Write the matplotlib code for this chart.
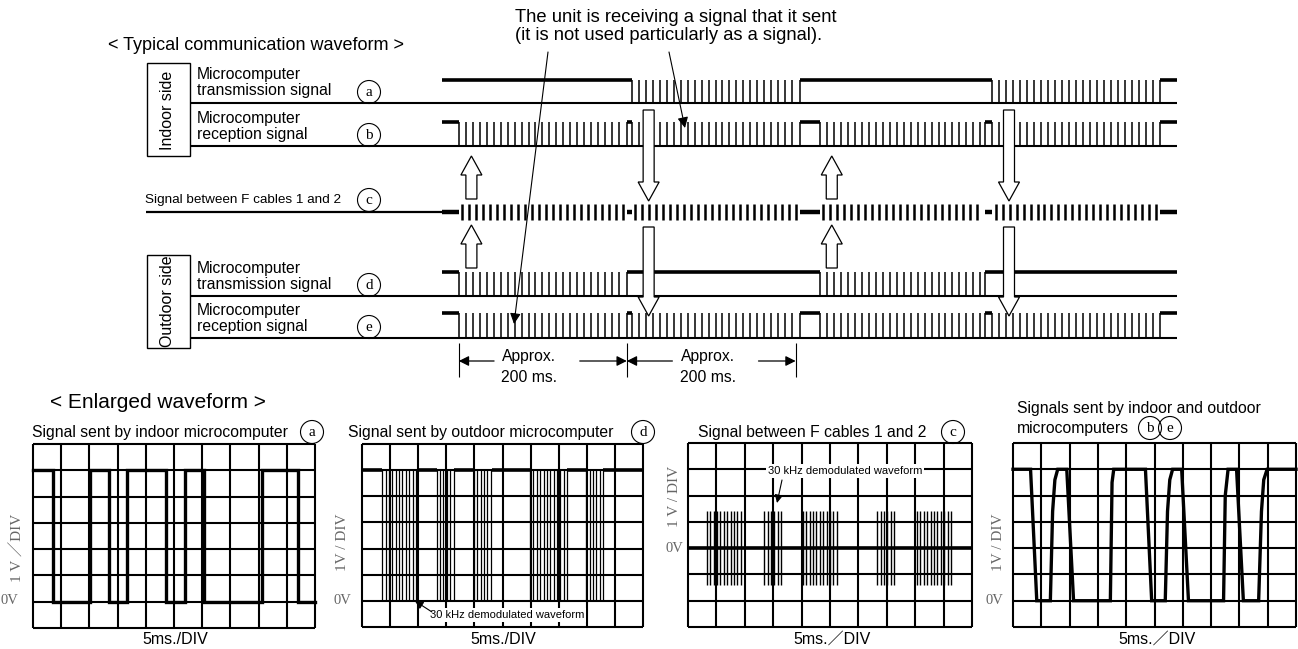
import numpy as np
import matplotlib.pyplot as plt
from matplotlib.patches import Rectangle, Circle, Polygon
from matplotlib.transforms import Affine2D

plt.rcParams['font.family'] = ['Liberation Sans', 'Noto Sans CJK JP', 'DejaVu Sans']
SERIF = ['Liberation Serif', 'Noto Sans CJK JP', 'DejaVu Serif']

# ---------------- typical communication waveform (time in ms) ----------------
trace_end = 875
tick_step = 8.3
outdoor_bursts = [(20, 220), (450, 646)]      # (d) outdoor unit transmits
indoor_bursts = [(226, 426), (655, 855)]      # (a) indoor unit transmits
frame_marks = [20, 220, 421]                  # "Approx. 200 ms." brackets
up_arrow_t = [35, 464]
down_arrow_t = [246, 675]

# ---------------- enlarged waveforms (ms, V) ----------------
a_low = [(3.5, 10.1), (13.5, 16.7), (23.6, 27.0), (30.3, 40.6), (47.0, 50.0)]
d_bursts = [(3.6, 9.8), (13.3, 16.4), (19.9, 23.1), (29.9, 36.5), (39.9, 42.9)]
c_bursts = [(3.3, 9.7), (13.4, 16.5), (20.2, 26.4), (33.3, 36.4), (40.3, 46.5)]
carrier_step = 0.6
c_amp = 1.4
be_t = [0, 3.1, 4.2, 6.6, 7.0, 7.4, 7.9, 9.5, 10.7, 17.2, 17.5, 17.8, 23.4, 24.5,
        26.9, 27.3, 27.7, 28.2, 29.8, 31.0, 37.2, 37.5, 38.0, 39.5, 40.7, 43.4,
        43.9, 44.3, 44.9, 50]
be_v = [5, 5, 0, 0, 3.4, 4.6, 5, 5, 0, 0, 4.5, 5, 5, 0,
        0, 3.4, 4.6, 5, 5, 0, 0, 4.0, 5, 5, 0, 0,
        3.4, 4.6, 5, 5]

W, H = 1298, 649
fig = plt.figure(figsize=(W / 100, H / 100), dpi=100)
ax = fig.add_axes([0, 0, 1, 1])
ax.set_xlim(0, W)
ax.set_ylim(H, 0)
ax.axis('off')
ax.set_zorder(10)
ax.patch.set_alpha(0)

# pixel mapping of the time axis of the upper diagram
X0, PX_MS = 442, 0.84
wave = Affine2D().scale(PX_MS, 1).translate(X0, 0) + ax.transData


def tx(t):
    return X0 + PX_MS * t


def gaps(bursts, end):
    out, t = [], 0
    for b0, b1 in sorted(bursts):
        out.append((t, b0))
        t = b1
    out.append((t, end))
    return out


def draw_row(bursts, y_hi, y_lo):
    for g0, g1 in gaps(bursts, trace_end):
        ax.hlines(y_hi, g0, g1, transform=wave, color='k', lw=2.6)
        edges = [e for e in (g0, g1) if 0 < e < trace_end]
        ax.vlines(edges, y_hi, y_lo, transform=wave, color='k', lw=1.1)
    for b0, b1 in bursts:
        ts = np.arange(b0 + tick_step, b1 - tick_step * 0.4, tick_step)
        ax.vlines(ts, y_hi, y_lo, transform=wave, color='k', lw=1.1)


def circ(x, y, ch, r=11.5):
    ax.add_patch(Circle((x, y), r, fill=False, lw=0.8, color='k'))
    ax.text(x, y + 0.5, ch, family=SERIF, fontsize=11, ha='center', va='center')


def block_arrow(x, y_tail, y_tip, sw=5.5, hw=10.5, hl=19):
    d = 1 if y_tip > y_tail else -1
    yb = y_tip - d * hl
    pts = [(x - sw, y_tail), (x - sw, yb), (x - hw, yb), (x, y_tip),
           (x + hw, yb), (x + sw, yb), (x + sw, y_tail)]
    ax.add_patch(Polygon(pts, closed=True, fc='white', ec='k', lw=0.9, zorder=6))


# ---------------- upper diagram ----------------
ax.text(108, 46, "< Typical communication waveform >", fontsize=13, va='center')

rows = {'a': (80, 103), 'b': (122, 146), 'd': (272, 296), 'e': (313, 338)}
yc = 212

ax.add_patch(Rectangle((147, 63), 43, 93, fill=False, lw=1.0))
ax.add_patch(Rectangle((147, 255), 43, 93, fill=False, lw=1.0))
ax.text(168, 110, "Indoor side", rotation=90, fontsize=11.5, ha='center', va='center')
ax.text(168, 301, "Outdoor side", rotation=90, fontsize=11.5, ha='center', va='center')

labels = [('a', "transmission signal"), ('b', "reception signal"),
          ('d', "transmission signal"), ('e', "reception signal")]
for key, second in labels:
    hi, lo = rows[key]
    ax.text(197, lo - 28, "Microcomputer", fontsize=11.3, va='center')
    ax.text(197, lo - 12, second, fontsize=11.3, va='center')
    circ(369, lo - 11, key)
    ax.hlines(lo, 190, tx(trace_end), color='k', lw=1.5)

draw_row(indoor_bursts, *rows['a'])
draw_row(indoor_bursts + outdoor_bursts, *rows['b'])
draw_row(outdoor_bursts, *rows['d'])
draw_row(indoor_bursts + outdoor_bursts, *rows['e'])

# line between F cables 1 and 2
ax.text(145, yc - 12, "Signal between F cables 1 and 2", fontsize=9.7, va='center')
circ(369, yc - 12, 'c')
ax.hlines(yc, 146, X0, color='k', lw=1.6)
for g0, g1 in gaps(indoor_bursts + outdoor_bursts, trace_end):
    ax.hlines(yc, g0, g1, transform=wave, color='k', lw=3.2)
for b0, b1 in indoor_bursts + outdoor_bursts:
    ts = np.arange(b0 + tick_step * 0.5, b1 - tick_step * 0.3, tick_step)
    ax.vlines(ts, yc - 8, yc + 8, transform=wave, color='k', lw=1.8)

# hollow arrows showing signal flow
for t in up_arrow_t:
    block_arrow(tx(t), 199, 156)
    block_arrow(tx(t), 268, 225)
for t in down_arrow_t:
    block_arrow(tx(t), 110, 201)
    block_arrow(tx(t), 227, 316)

# self reception note
ax.text(515, 17, "The unit is receiving a signal that it sent", fontsize=13.2, va='center')
ax.text(515, 35, "(it is not used particularly as a signal).", fontsize=13.2, va='center')
for xy, xytext in [((514, 324), (548, 52)), ((685, 128), (669, 52))]:
    ax.annotate('', xy=xy, xytext=xytext,
                arrowprops=dict(arrowstyle='-|>', lw=0.8, color='k',
                                mutation_scale=16, shrinkA=0, shrinkB=0))

# approx 200 ms brackets
ax.vlines([tx(m) for m in frame_marks], 343, 377, color='k', lw=0.8)
for i, (m0, m1) in enumerate(zip(frame_marks[:-1], frame_marks[1:])):
    span = m1 - m0
    shift = 0.06 * i
    ax.annotate('', xy=(tx(m0), 361), xytext=(tx(m0 + (0.21 + shift) * span), 361),
                arrowprops=dict(arrowstyle='-|>', lw=0.9, color='k',
                                mutation_scale=15, shrinkA=0, shrinkB=0))
    ax.annotate('', xy=(tx(m1), 361), xytext=(tx(m0 + (0.72 + shift) * span), 361),
                arrowprops=dict(arrowstyle='-|>', lw=0.9, color='k',
                                mutation_scale=15, shrinkA=0, shrinkB=0))
    xm = tx(m0 + (0.42 + shift) * span)
    ax.text(xm, 357, "Approx.", fontsize=11.3, ha='center', va='center')
    ax.text(xm, 377, "200 ms.", fontsize=11.3, ha='center', va='center')

# ---------------- enlarged waveforms ----------------
ax.text(158, 403, "< Enlarged waveform >", fontsize=15, ha='center', va='center')


def scope(x0, y0, x1, y1, ylo, yhi):
    a = fig.add_axes([x0 / W, 1 - y1 / H, (x1 - x0) / W, (y1 - y0) / H])
    a.set_xlim(0, 50)
    a.set_ylim(ylo, yhi)
    a.axis('off')
    a.vlines(np.arange(0, 51, 5), ylo, yhi, color='k', lw=1.5, clip_on=False)
    a.hlines(np.arange(ylo, yhi + 1), 0, 50, color='k', lw=1.5, clip_on=False)
    return a


TR = dict(color='k', lw=2.4, solid_joinstyle='miter', clip_on=False)

# (a) indoor transmission
p1 = scope(33, 444, 315, 628, -1, 6)
ts, vs = [0], [5]
for l0, l1 in a_low:
    ts += [l0, l0, l1, l1]
    vs += [5, 0, 0, 5]
if ts[-1] >= 50:
    ts, vs = ts[:-1], vs[:-1]
p1.plot(ts, vs, **TR)

# (d) outdoor transmission
p2 = scope(362, 444, 643, 627, -1, 6)
for g0, g1 in gaps(d_bursts, 50):
    p2.hlines(5, g0, g1, color='k', lw=2.6, clip_on=False)
for b0, b1 in d_bursts:
    p2.vlines(np.arange(b0, b1 + 0.01, carrier_step), 0, 5, color='k', lw=0.9)

# (c) line signal
p3 = scope(688, 443, 972, 627, -3, 4)
p3.hlines(0, 0, 50, color='k', lw=2.6, clip_on=False)
for b0, b1 in c_bursts:
    p3.vlines(np.arange(b0, b1 + 0.01, carrier_step), -c_amp, c_amp, color='k', lw=1.0)

# (b)(e) reception
p4 = scope(1013, 443, 1296, 627, -1, 6)
p4.plot(be_t, be_v, **TR)

# panel titles
ax.text(32, 432, "Signal sent by indoor microcomputer", fontsize=11.3, va='center')
circ(312, 432, 'a')
ax.text(348, 432, "Signal sent by outdoor microcomputer", fontsize=11.3, va='center')
circ(643, 432, 'd')
ax.text(698, 432, "Signal between F cables 1 and 2", fontsize=11.3, va='center')
circ(953, 432, 'c')
ax.text(1017, 408, "Signals sent by indoor and outdoor", fontsize=11.3, va='center')
ax.text(1017, 428, "microcomputers", fontsize=11.3, va='center')
circ(1150, 428, 'b')
circ(1170, 428, 'e')

# axis captions
GRAY = '#666666'
for x, y, s in [(18, 548, "1 V \uff0fDIV"), (343, 542, "1V / DIV"),
                (675, 496, "1 V / DIV"), (998, 542, "1V / DIV")]:
    ax.text(x, y, s, family=SERIF, fontsize=11, color=GRAY, rotation=90,
            ha='center', va='center')
for x, y in [(9, 601), (342, 601), (674, 548), (994, 600)]:
    ax.text(x, y, "0V", family=SERIF, fontsize=10.5, color=GRAY, ha='center', va='center')
for x, s in [(175, "5ms./DIV"), (503, "5ms./DIV"), (832, "5ms.\uff0fDIV"), (1157, "5ms.\uff0fDIV")]:
    ax.text(x, 639, s, fontsize=11.5, ha='center', va='center')

# 30 kHz notes
box = dict(fc='white', ec='none', pad=1.5)
ax.text(507, 615, "30 kHz demodulated waveform", fontsize=8, ha='center', va='center', bbox=box)
ax.annotate('', xy=(415, 601), xytext=(432, 612),
            arrowprops=dict(arrowstyle='-|>', lw=0.8, color='k', mutation_scale=12,
                            shrinkA=0, shrinkB=0))
ax.text(845, 471, "30 kHz demodulated waveform", fontsize=8, ha='center', va='center', bbox=box)
ax.annotate('', xy=(777, 503), xytext=(782, 480),
            arrowprops=dict(arrowstyle='-|>', lw=0.8, color='k', mutation_scale=12,
                            shrinkA=0, shrinkB=0))

fig.savefig('out.png', dpi=100)
